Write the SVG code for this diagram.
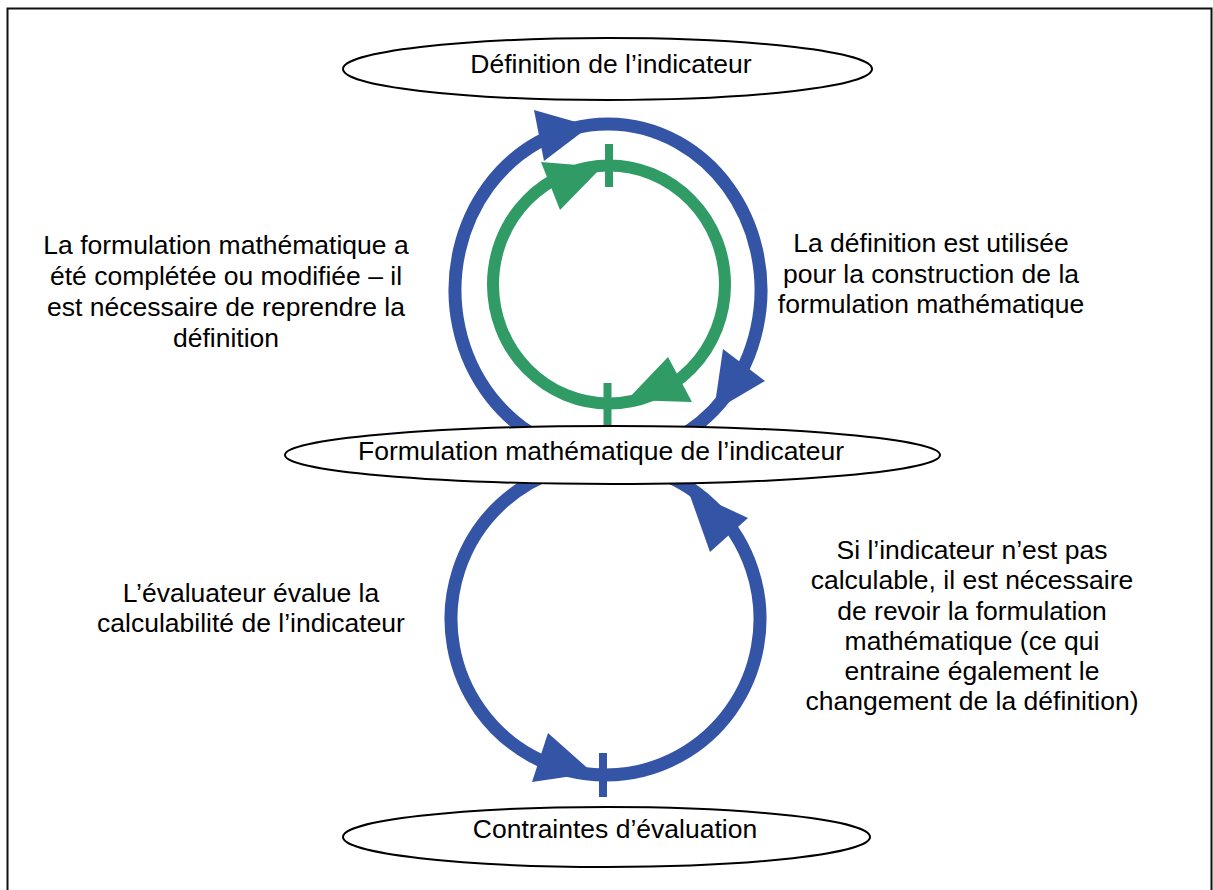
<svg xmlns="http://www.w3.org/2000/svg" width="1213" height="890" viewBox="0 0 1213 890">
<style>
.t{font-family:"Liberation Sans",Arial,sans-serif;font-size:26.5px;fill:#000;text-anchor:middle}
.node{fill:#fff;stroke:#000;stroke-width:2}
.bl{fill:none;stroke:#3454A5;stroke-width:13}
.gr{fill:none;stroke:#319B66;stroke-width:12}
.bh{fill:#3454A5}
.gh{fill:#319B66}
</style>
<rect x="0" y="0" width="1213" height="890" fill="#fff"/>
<rect x="7.5" y="8.5" width="1204" height="900" fill="none" stroke="#111" stroke-width="2"/>
<g id="connectors">
<path class="bl" d="M 542.5 440 A 153 166 0 1 1 673.5 440"/>
<ellipse class="gr" cx="609" cy="284.5" rx="116" ry="119"/>
<path class="bl" d="M 559.7 470 A 154.5 156 0 1 0 651.3 470"/>
<polygon class="bh" points="534,110 544,161 590,126"/>
<polygon class="bh" points="723,349 765,381 714,411"/>
<polygon class="gh" points="541,162 560,210 602,167"/>
<polygon class="gh" points="668,357 692,402 627,400"/>
<polygon class="bh" points="548,733 532,782 593,773"/>
<polygon class="bh" points="748,518 710,552 688,490"/>
<line x1="609" y1="144" x2="609" y2="187" stroke="#319B66" stroke-width="8"/>
<line x1="607.5" y1="383" x2="607.5" y2="430" stroke="#319B66" stroke-width="8"/>
<line x1="603" y1="753" x2="603" y2="797" stroke="#3454A5" stroke-width="8"/>
</g>
<g id="node-definition">
<ellipse class="node" cx="607.5" cy="69" rx="264.5" ry="31"/>
<text class="t" x="611" y="73">Définition de l’indicateur</text>
</g>
<g id="node-formulation">
<ellipse class="node" cx="612.5" cy="455" rx="327.5" ry="29"/>
<text class="t" x="601" y="460">Formulation mathématique de l’indicateur</text>
</g>
<g id="node-contraintes">
<ellipse class="node" cx="606.5" cy="837" rx="263.5" ry="30"/>
<text class="t" x="615" y="838">Contraintes d’évaluation</text>
</g>
<g id="labels">
<text class="t" x="226" y="254">La formulation mathématique a</text>
<text class="t" x="226" y="285">été complétée ou modifiée – il</text>
<text class="t" x="226" y="316">est nécessaire de reprendre la</text>
<text class="t" x="226" y="347">définition</text>
<text class="t" x="931" y="252">La définition est utilisée</text>
<text class="t" x="931" y="283">pour la construction de la</text>
<text class="t" x="931" y="313">formulation mathématique</text>
<text class="t" x="251" y="602">L’évaluateur évalue la</text>
<text class="t" x="251" y="632">calculabilité de l’indicateur</text>
<text class="t" x="972" y="559">Si l’indicateur n’est pas</text>
<text class="t" x="972" y="589">calculable, il est nécessaire</text>
<text class="t" x="972" y="620">de revoir la formulation</text>
<text class="t" x="972" y="650">mathématique (ce qui</text>
<text class="t" x="972" y="680">entraine également le</text>
<text class="t" x="972" y="710">changement de la définition)</text>
</g>
</svg>
